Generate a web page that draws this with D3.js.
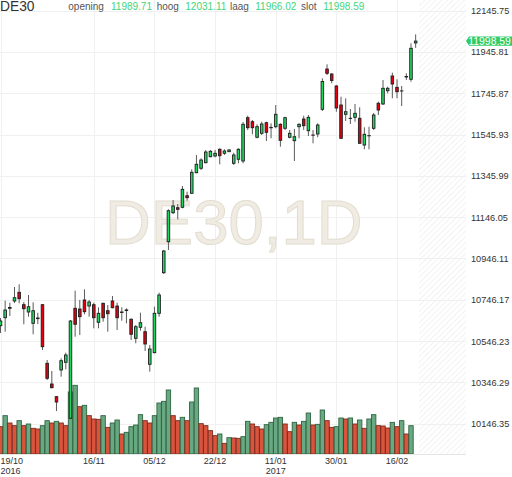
<!DOCTYPE html>
<html>
<head>
<meta charset="utf-8">
<script src="https://cdn.jsdelivr.net/npm/d3@7"></script>
<style>
  html, body { margin: 0; padding: 0; background: #fff; overflow: hidden; }
  svg { display: block; font-family: "Liberation Sans", Arial, sans-serif; }
</style>
</head>
<body>
<div id="chart"></div>
<script>
// trading days shown (dd/mm/yyyy)
const dates = [
  "19/10/2016","20/10/2016","21/10/2016","24/10/2016","25/10/2016","26/10/2016","27/10/2016","28/10/2016","31/10/2016",
  "01/11/2016","02/11/2016","03/11/2016","04/11/2016","07/11/2016","08/11/2016","09/11/2016","10/11/2016","11/11/2016",
  "14/11/2016","15/11/2016","16/11/2016","17/11/2016","18/11/2016","21/11/2016","22/11/2016","23/11/2016","24/11/2016",
  "25/11/2016","28/11/2016","29/11/2016","30/11/2016",
  "01/12/2016","02/12/2016","05/12/2016","06/12/2016","07/12/2016","08/12/2016","09/12/2016","12/12/2016","13/12/2016",
  "14/12/2016","15/12/2016","16/12/2016","19/12/2016","20/12/2016","21/12/2016","22/12/2016","23/12/2016","27/12/2016",
  "28/12/2016","29/12/2016","30/12/2016",
  "02/01/2017","03/01/2017","04/01/2017","05/01/2017","06/01/2017","09/01/2017","10/01/2017","11/01/2017","12/01/2017",
  "13/01/2017","16/01/2017","17/01/2017","18/01/2017","19/01/2017","20/01/2017","23/01/2017","24/01/2017","25/01/2017",
  "26/01/2017","27/01/2017","30/01/2017","31/01/2017",
  "01/02/2017","02/02/2017","03/02/2017","06/02/2017","07/02/2017","08/02/2017","09/02/2017","10/02/2017","13/02/2017",
  "14/02/2017","15/02/2017","16/02/2017","17/02/2017","20/02/2017","21/02/2017","22/02/2017"
];

const open = [
  10620.8,10659.5,10705.0,10740.4,10782.5,10722.4,10687.1,10632.4,10655.0,10722.4,
  10438.7,10338.5,10277.1,10406.3,10443.6,10172.5,10705.0,10701.6,10745.2,10716.1,
  10722.4,10637.2,10729.2,10693.4,10740.4,10716.1,10687.1,10694.0,10651.8,10559.8,
  10613.0,10591.7,10433.9,10490.1,10680.8,10877.3,11027.4,11167.8,11192.0,11194.0,
  11250.1,11261.8,11361.5,11382.8,11409.9,11438.9,11442.3,11474.8,11455.4,11463.2,
  11407.0,11426.4,11418.1,11627.7,11608.4,11532.9,11552.2,11603.5,11579.0,11584.1,
  11595.8,11576.4,11532.9,11516.4,11584.1,11621.4,11564.8,11544.0,11548.8,11668.4,
  11863.5,11839.3,11781.2,11689.2,11644.2,11625.0,11629.6,11624.8,11495.6,11540.0,
  11576.4,11697.5,11694.1,11758.5,11829.6,11774.9,11757.0,11825.0,11813.7,11989.71
];
const high = [
  10658.0,10741.8,10732.2,10808.0,10821.2,10735.5,10769.4,10734.1,10683.7,10725.9,
  10454.7,10401.5,10280.5,10463.0,10490.1,10648.4,10790.2,10745.2,10797.0,10745.2,
  10732.2,10709.9,10732.2,10721.0,10764.5,10732.2,10709.9,10705.0,10656.6,10624.2,
  10683.7,10615.9,10527.4,10712.7,10780.6,10987.3,11184.3,11229.3,11210.0,11297.1,
  11269.5,11378.0,11447.2,11431.2,11471.4,11471.4,11471.4,11479.6,11474.8,11476.2,
  11458.3,11479.6,11606.9,11637.4,11616.6,11595.8,11608.4,11608.4,11600.6,11689.2,
  11600.6,11632.5,11568.2,11573.1,11600.6,11637.4,11640.8,11568.2,11600.6,11818.5,
  11886.3,11842.7,11786.1,11729.4,11721.7,11669.9,11694.1,11678.1,11581.3,11584.1,
  11650.5,11705.2,11810.3,11777.8,11845.6,11813.7,11781.2,11842.7,11987.9,12031.11
];
const low = [
  10585.4,10591.7,10667.7,10730.7,10729.2,10627.6,10664.4,10579.2,10629.0,10503.1,
  10357.9,10318.0,10207.8,10373.9,10409.7,10169.1,10567.5,10575.8,10676.0,10664.4,
  10608.2,10608.2,10640.1,10591.7,10705.0,10600.0,10645.0,10632.4,10551.5,10535.6,
  10596.6,10498.3,10398.1,10487.2,10664.4,10871.0,10987.3,11161.5,11135.9,11189.1,
  11225.9,11258.4,11358.6,11374.6,11407.0,11436.0,11436.0,11402.1,11447.2,11461.7,
  11398.8,11407.0,11407.0,11568.2,11547.4,11528.0,11544.0,11514.9,11528.0,11576.4,
  11487.3,11568.2,11528.0,11418.1,11528.0,11568.2,11539.1,11503.8,11532.9,11660.2,
  11834.5,11794.3,11656.8,11525.0,11611.8,11597.2,11608.4,11502.0,11474.8,11474.8,
  11568.2,11640.8,11689.2,11745.9,11721.7,11721.7,11684.4,11810.3,11802.0,11966.02
];
const close = [
  10643.5,10696.8,10709.0,10756.3,10751.5,10703.1,10712.7,10693.4,10658.0,10519.1,
  10366.1,10320.6,10251.4,10451.4,10479.0,10643.5,10627.6,10664.4,10688.5,10735.5,
  10659.5,10680.8,10659.5,10678.9,10707.9,10659.5,10685.0,10697.0,10579.2,10615.9,
  10635.3,10532.2,10508.0,10680.8,10769.4,10982.4,11177.5,11200.3,11184.3,11281.1,
  11240.5,11363.4,11402.1,11423.0,11461.7,11465.1,11455.4,11443.8,11466.5,11471.4,
  11447.2,11474.8,11595.8,11579.3,11579.3,11584.1,11597.2,11557.0,11581.0,11644.2,
  11518.3,11627.7,11552.2,11535.8,11595.8,11589.0,11629.6,11543.0,11592.4,11803.0,
  11842.7,11807.9,11674.7,11528.0,11656.8,11624.0,11649.0,11503.8,11547.4,11541.0,
  11640.8,11665.0,11770.1,11770.1,11790.9,11753.6,11757.5,11827.0,11963.7,11998.59
];
// volume (thousand lots)
const volume = [
   82,115, 93, 85,100, 85, 90, 77, 75, 85,
  100, 93, 98, 93, 85,186,206,142,146,115,
  105,104,115, 80, 93,102, 60, 65, 82, 87,
  118,100, 93,115,153,158,192,115,100,110,
  100,156,198, 91, 85, 70, 55, 60, 32, 49,
   48, 47, 52, 98, 90, 82, 75, 88, 95,108,
  110, 90, 67, 95, 87, 98,123, 87, 89,132,
  100, 80, 82,108,105,108, 90,102, 77,105,
  118, 85, 84, 78, 95, 82,100, 60, 85,  0
];

const priceTicks = [12145.75, 11945.81, 11745.87, 11545.93, 11345.99, 11146.05,
                    10946.11, 10746.17, 10546.23, 10346.29, 10146.35];
const dateTicks = ["19/10/2016","16/11/2016","05/12/2016","22/12/2016","11/01/2017","30/01/2017","16/02/2017"];
const yearTicks = ["19/10/2016","11/01/2017"];

const symbol = "DE30";
const watermark = "DE30,1D";
const header = [
  {label: "opening", value: "11989.71", lx: 68.3, vx: 111},
  {label: "hoog",    value: "12031.11", lx: 156.7, vx: 185.3},
  {label: "laag",    value: "11966.02", lx: 230, vx: 255.3},
  {label: "slot",    value: "11998.59", lx: 301, vx: 323.3}
];
const lastPrice = 11998.59;

const width = 512, height = 477;
const plotRight = 466, futureLeft = 419, plotBottom = 454;

const svg = d3.select("#chart").append("svg")
  .attr("width", width)
  .attr("height", height);

const defs = svg.append("defs");
const pat = defs.append("pattern")
  .attr("id", "hatch")
  .attr("patternUnits", "userSpaceOnUse")
  .attr("width", 4).attr("height", 4)
  .attr("patternTransform", "rotate(45)");
pat.append("line")
  .attr("x1", 0).attr("y1", 0).attr("x2", 0).attr("y2", 4)
  .attr("stroke", "#ececec").attr("stroke-width", 1.4);

const x = d3.scaleBand()
  .domain(dates)
  .range([-1.83, 418.0])
  .paddingInner(0.45)
  .paddingOuter(0.225);

const xv = d3.scaleBand()
  .domain(dates)
  .range([-1.83, 418.0])
  .paddingInner(0.06)
  .paddingOuter(0.03);

const cx = d => x(d) + x.bandwidth() / 2;

const y = d3.scaleLinear()
  .domain([10146.35, 12145.75])
  .range([423.7, 10.7]);

const yVol = d3.scaleLinear()
  .domain([0, 300])
  .range([plotBottom, plotBottom - 100]);

// future (hatched) area
svg.append("rect")
  .attr("x", futureLeft).attr("y", 0)
  .attr("width", plotRight - futureLeft).attr("height", plotBottom)
  .attr("fill", "url(#hatch)");

// grid
svg.append("g")
  .selectAll("line")
  .data(priceTicks)
  .join("line")
    .attr("x1", 0).attr("x2", plotRight)
    .attr("y1", d => Math.round(y(d)) + 0.5)
    .attr("y2", d => Math.round(y(d)) + 0.5)
    .attr("stroke", "#f0f0f0");

svg.append("g")
  .selectAll("line")
  .data(dateTicks)
  .join("line")
    .attr("x1", d => Math.round(cx(d)) + 0.5)
    .attr("x2", d => Math.round(cx(d)) + 0.5)
    .attr("y1", 0).attr("y2", plotBottom)
    .attr("stroke", "#f0f0f0");

// watermark
svg.append("text")
  .attr("x", 105)
  .attr("y", 243.5)
  .attr("font-size", 63.5)
  .attr("fill", "#f0ece3")
  .attr("stroke", "#e3ddd0")
  .attr("stroke-width", 1)
  .text(watermark);

// volume
const rows = dates.map((d, i) => ({
  date: d, o: open[i], h: high[i], l: low[i], c: close[i], v: volume[i],
  up: i > 0 && volume[i] > volume[i - 1]
}));

svg.append("g")
  .selectAll("rect")
  .data(rows.filter(r => r.v > 0))
  .join("rect")
    .attr("x", d => xv(d.date))
    .attr("y", d => yVol(d.v))
    .attr("width", xv.bandwidth())
    .attr("height", d => yVol(0) - yVol(d.v))
    .attr("fill", d => d.up ? "#69a982" : "#d9543d")
    .attr("stroke", d => d.up ? "#2e6342" : "#7c2a1c")
    .attr("stroke-width", 0.9);

svg.append("line")
  .attr("x1", 0).attr("x2", plotRight)
  .attr("y1", plotBottom + 0.5).attr("y2", plotBottom + 0.5)
  .attr("stroke", "#e6e6e6");

// candles
const candles = svg.append("g")
  .selectAll("g")
  .data(rows)
  .join("g");

candles.append("line")
  .attr("x1", d => cx(d.date)).attr("x2", d => cx(d.date))
  .attr("y1", d => y(d.h)).attr("y2", d => y(d.l))
  .attr("stroke", "#5a5a5a")
  .attr("stroke-width", 1);

candles.append("rect")
  .attr("x", d => x(d.date))
  .attr("y", d => y(Math.max(d.o, d.c)))
  .attr("width", x.bandwidth())
  .attr("height", d => Math.abs(y(d.o) - y(d.c)))
  .attr("fill", d => d.c >= d.o ? "#1fd65f" : "#e3000f")
  .attr("stroke", "#1e1e1e")
  .attr("stroke-width", 0.9);

// price axis
const yAxis = svg.append("g")
  .attr("transform", `translate(${plotRight},0)`)
  .call(d3.axisRight(y).tickValues(priceTicks).tickFormat(d3.format(".2f")).tickSize(0).tickPadding(5))
  .call(g => g.select(".domain").remove());
yAxis.selectAll("text")
  .attr("font-size", 9.2)
  .attr("font-family", "Liberation Sans, Arial, sans-serif")
  .attr("fill", "#333");

// last price tag
const ty = y(lastPrice);
svg.append("path")
  .attr("d", `M${plotRight},${ty} L${plotRight + 3},${ty - 4.6} L${width},${ty - 4.6} L${width},${ty + 4.6} L${plotRight + 3},${ty + 4.6} Z`)
  .attr("fill", "#2fcc66");
svg.append("text")
  .attr("x", plotRight + 2.3)
  .attr("y", ty + 3.6)
  .attr("font-size", 10.4)
  .attr("fill", "#fff")
  .text(d3.format(".2f")(lastPrice));

// date axis
const fmtDay = d => d.slice(0, 5);
const xAxis = svg.append("g")
  .attr("transform", `translate(0,${plotBottom})`)
  .call(d3.axisBottom(x).tickValues(dateTicks).tickFormat(fmtDay).tickSize(0).tickPadding(3.2))
  .call(g => g.select(".domain").remove());
xAxis.selectAll("text")
  .attr("font-size", 9)
  .attr("font-family", "Liberation Sans, Arial, sans-serif")
  .attr("fill", "#333");
xAxis.selectAll(".tick")
  .filter(d => yearTicks.includes(d))
  .append("text")
    .attr("y", 20)
    .attr("font-size", 9)
    .attr("fill", "#333")
    .attr("text-anchor", "middle")
    .text(d => d.slice(6));
// first tick is kept inside the frame
xAxis.selectAll(".tick")
  .filter(d => d === dates[0])
  .selectAll("text")
    .attr("text-anchor", "start")
    .attr("x", -cx(dates[0]) + 0.6);

// header
svg.append("text")
  .attr("x", 0).attr("y", 10.8)
  .attr("font-size", 13.8)
  .attr("fill", "#333")
  .text(symbol);

const hd = svg.append("g").selectAll("g").data(header).join("g");
hd.append("text")
  .attr("x", d => d.lx).attr("y", 9.6)
  .attr("font-size", 10)
  .attr("fill", "#555")
  .text(d => d.label);
hd.append("text")
  .attr("x", d => d.vx).attr("y", 9.6)
  .attr("font-size", 10)
  .attr("fill", "#3fd67b")
  .text(d => d.value);
</script>
</body>
</html>
